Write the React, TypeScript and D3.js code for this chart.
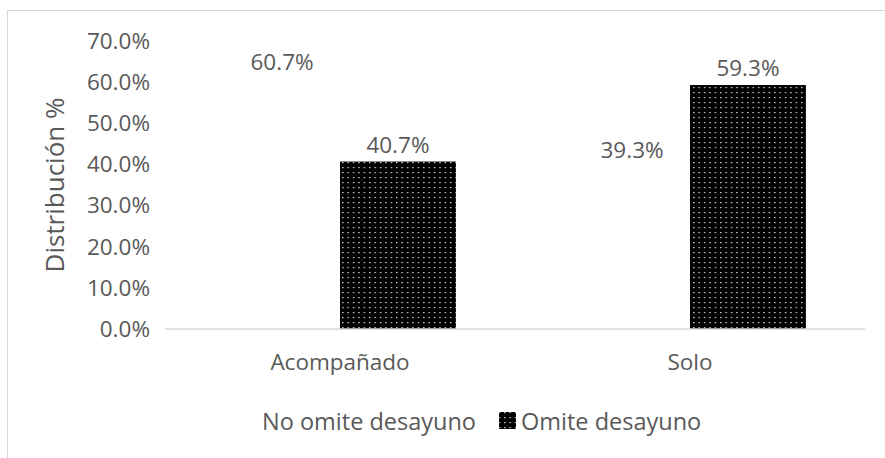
import React from "react";
import * as d3 from "d3";

const categories = ["Acompañado", "Solo"];
const series = ["No omite desayuno", "Omite desayuno"];
const noOmite = [0.607, 0.393];
const omite = [0.407, 0.593];
const yTicks = [0, 0.1, 0.2, 0.3, 0.4, 0.5, 0.6, 0.7];

const W = 885;
const H = 458;
const FONT = "'Open Sans', sans-serif";
const TXT = "#595959";
const FS = 22.5;

export default function App() {
  const x0 = d3.scaleBand<string>().domain(categories).range([165, 865]).paddingInner(0).paddingOuter(0);
  const x1 = d3.scaleBand<string>().domain(series).range([0, x0.bandwidth()]).paddingInner(0).paddingOuter(0.51);
  const y = d3.scaleLinear().domain([0, 0.7]).range([329, 41]);
  const fmt = d3.format(".1%");
  const values = [noOmite, omite];

  return (
    <svg width={W} height={H} style={{ position: "absolute", left: 0, top: 0, background: "#fff" }} fontFamily={FONT}>
      <defs>
        <pattern id="dots" width={5.4} height={5} patternUnits="userSpaceOnUse">
          <rect width={5.4} height={5} fill="#000" />
          <rect x={2} y={2} width={1.2} height={1.2} fill="#fff" />
        </pattern>
      </defs>
      <rect x={0} y={0} width={W} height={H} fill="#fff" />
      <line x1={7} x2={W} y1={10.5} y2={10.5} stroke="#d9d9d9" />
      <line x1={7.5} x2={7.5} y1={10} y2={H} stroke="#d9d9d9" />

      {yTicks.map((t) => (
        <text key={t} x={150} y={y(t)} dy="0.35em" textAnchor="end" fontSize={FS} fill={TXT}>
          {fmt(t)}
        </text>
      ))}

      <text transform={`translate(64,185) rotate(-90)`} textAnchor="middle" fontSize={26} fill={TXT}>
        Distribución %
      </text>

      {categories.map((c, ci) =>
        series.map((s, si) => {
          const v = values[si][ci];
          const bx = (x0(c) as number) + (x1(s) as number);
          const bw = x1.bandwidth();
          return (
            <g key={c + s}>
              <rect
                x={bx}
                y={y(v)}
                width={bw}
                height={y(0) - y(v)}
                fill={si === 0 ? "#fff" : "url(#dots)"}
              />
              <text x={bx + bw / 2} y={y(v) - 9} textAnchor="middle" fontSize={FS} fill={TXT}>
                {fmt(v)}
              </text>
            </g>
          );
        })
      )}

      <line x1={165} x2={865} y1={329} y2={329} stroke="#d9d9d9" strokeWidth={1.5} />

      {categories.map((c) => (
        <text key={c} x={(x0(c) as number) + x0.bandwidth() / 2} y={362} dy="0.35em" textAnchor="middle" fontSize={FS} fill={TXT}>
          {c}
        </text>
      ))}

      <g>
        <rect x={244} y={412} width={15} height={15} fill="#fff" />
        <text x={262} y={422} dy="0.35em" fontSize={23.5} fill={TXT}>
          {series[0]}
        </text>
        <rect x={499} y={412} width={17} height={17} fill="url(#dots)" />
        <text x={521} y={422} dy="0.35em" fontSize={23.5} fill={TXT}>
          {series[1]}
        </text>
      </g>
    </svg>
  );
}
